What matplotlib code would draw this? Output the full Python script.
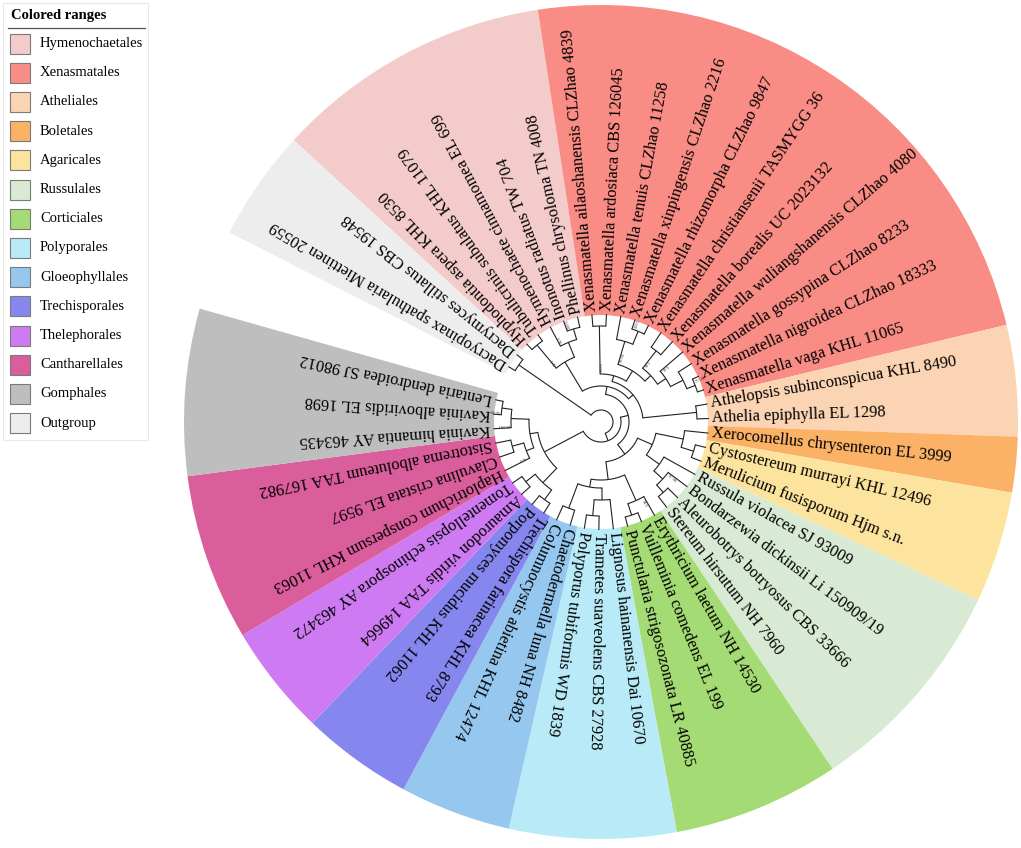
import numpy as np
import matplotlib
matplotlib.use("Agg")
import matplotlib.pyplot as plt
from matplotlib.patches import Wedge, Rectangle

# -- Leaves, clockwise from the outgroup -------------------------------------
LEAVES = [
    "Dacryopinax spathularia Miettinen 20559",
    "Dacrymyces stillatus CBS 19548",
    "Hyphodontia aspera KHL 8530",
    "Tubulicrinis subulatus KHL 11079",
    "Hymenochaete cinnamomea EL 699",
    "Inonotus radiatus TW 704",
    "Phellinus chrysoloma TN 4008",
    "Xenasmatella ailaoshanensis CLZhao 4839",
    "Xenasmatella ardosiaca CBS 126045",
    "Xenasmatella tenuis CLZhao 11258",
    "Xenasmatella xinpingensis CLZhao 2216",
    "Xenasmatella rhizomorpha CLZhao 9847",
    "Xenasmatella christiansenii TASMYGG 36",
    "Xenasmatella borealis UC 2023132",
    "Xenasmatella wuliangshanensis CLZhao 4080",
    "Xenasmatella gossypina CLZhao 8233",
    "Xenasmatella nigroidea CLZhao 18333",
    "Xenasmatella vaga KHL 11065",
    "Athelopsis subinconspicua KHL 8490",
    "Athelia epiphylla EL 1298",
    "Xerocomellus chrysenteron EL 3999",
    "Cystostereum murrayi KHL 12496",
    "Merulicium fusisporum Hjm s.n.",
    "Russula violacea SJ 93009",
    "Bondarzewia dickinsii Li 150909/19",
    "Aleurobotrys botryosus CBS 33666",
    "Stereum hirsutum NH 7960",
    "Erythricium laetum NH 14530",
    "Vuilleminia comedens EL 199",
    "Punctularia strigosozonata LR 40885",
    "Lignosus hainanensis Dai 10670",
    "Trametes suaveolens CBS 27928",
    "Polyporus tubiformis WD 1839",
    "Chaetodermella luna NH 8482",
    "Columnocystis abietina KHL 12474",
    "Trechispora farinacea KHL 8793",
    "Porpomyces mucidus KHL 11062",
    "Amaurodon viridis TAA 149664",
    "Tomentellopsis echinospora AY 463472",
    "Haplotrichum conspersum KHL 11063",
    "Clavulina cristata EL 9597",
    "Sistotrema alboluteum TAA 167982",
    "Kavinia himantia AY 463435",
    "Kavinia alboviridis EL 1698",
    "Lentaria dendroidea SJ 98012",
]

# -- Colored ranges (legend order), first/last leaf index --------------------
CLADES = ["Hymenochaetales", "Xenasmatales", "Atheliales", "Boletales",
          "Agaricales", "Russulales", "Corticiales", "Polyporales",
          "Gloeophyllales", "Trechisporales", "Thelephorales",
          "Cantharellales", "Gomphales", "Outgroup"]
CLADE_FIRST = [2, 7, 18, 20, 21, 23, 27, 30, 33, 35, 37, 39, 42, 0]
CLADE_LAST  = [6, 17, 19, 20, 22, 26, 29, 32, 34, 36, 38, 41, 44, 1]
CLADE_COLORS = ["#F4CBCB", "#F98C85", "#FBD4B4", "#FBB166", "#FDE49E",
                "#D9EAD4", "#A4DB74", "#B8EBF7", "#95C7EF", "#8587EF",
                "#CE7BF3", "#DA5D9C", "#BEBEBE", "#EDEDED"]

# -- Tree: (node depth px, support, children); ints are leaf indices ---------
OUTGROUP = (100, "", [0, 1])
HYMENO   = (70, "98/1", [(100, "", [2, 3]), (86, "95/1", [4, (97, "100/1", [5, 6])])])
XENAS    = (48, "100/1", [(96, "", [7, 8]),
                          (60, "98/94", [(84, "", [9, (98, "100/1", [10, 11])]),
                                         (68, "99/1", [(90, "", [12, 13]),
                                                       (78, "97/1", [14, (92, "", [15, (101, "77/.98", [16, 17])])])])])])
ATHEL    = (96, "", [18, 19])
BOL_AGA  = (84, "", [20, (97, "", [21, 22])])
RUSSUL   = (72, "", [23, (84, "73/.96", [24, (94, "", [25, 26])])])
CORTIC   = (86, "94/1", [27, (98, "", [28, 29])])
POLYPO   = (78, "", [30, (94, "", [31, 32])])
GLOEO    = (92, "", [33, 34])
TRECH    = (96, "", [35, 36])
THELE    = (96, "", [37, 38])
CANTH    = (80, "96/1", [39, (92, "", [40, 41])])
GOMPH    = (90, "22/001", [42, (100, "96/98", [43, 44])])

TREE = (12, "", [OUTGROUP,
        (20, "", [(28, "", [(36, "", [HYMENO, (42, "", [XENAS, ATHEL])]),
                            (40, "", [(56, "", [BOL_AGA, RUSSUL]),
                                      (58, "", [CORTIC, (66, "", [POLYPO, GLOEO])])])]),
                  (64, "", [(84, "", [TRECH, THELE]), (72, "", [CANTH, GOMPH])])])])

# -- Layout -------------------------------------------------------------------
W, H = 1021, 848
CX, CY = 601, H - 422
ANGLE_START, STEP = 149.1, 7.75
R_TIP, R_LABEL = 108, 111
R_IN, R_OUT = 107, 417

angles = [ANGLE_START - i * STEP for i in range(len(LEAVES))]

fig = plt.figure(figsize=(W / 100, H / 100), dpi=100)
ax = fig.add_axes([0, 0, 1, 1])
ax.set_xlim(0, W)
ax.set_ylim(0, H)
ax.set_aspect("equal")
ax.axis("off")

SERIF = ["Liberation Serif", "DejaVu Serif"]

# colored ranges
for name, first, last, col in zip(CLADES, CLADE_FIRST, CLADE_LAST, CLADE_COLORS):
    a_hi = angles[first] + STEP / 2
    a_lo = angles[last] - STEP / 2
    ax.add_patch(Wedge((CX, CY), R_OUT, a_lo, a_hi, width=R_OUT - R_IN,
                       facecolor=col, edgecolor="none", zorder=1))


def polar(r, a):
    t = np.radians(a)
    return CX + r * np.cos(t), CY + r * np.sin(t)


LW, LC = 0.8, "#222222"


def draw(node):
    if isinstance(node, int):
        return angles[node], R_TIP
    r, sup, kids = node
    res = [draw(k) for k in kids]
    angs = [a for a, _ in res]
    for a, rc in res:
        x0, y0 = polar(r, a)
        x1, y1 = polar(rc, a)
        ax.plot([x0, x1], [y0, y1], color=LC, lw=LW, zorder=3,
                solid_capstyle="butt")
    t = np.linspace(min(angs), max(angs), 80)
    xs, ys = polar(r, t)
    ax.plot(xs, ys, color=LC, lw=LW, zorder=3)
    if sup:
        a_sup = max(angs) - 2.0
        xs_, ys_ = polar(r + 7, a_sup)
        ax.text(xs_, ys_, sup, fontsize=3.2, color="#333333",
                rotation=a_sup % 360, ha="center", va="center",
                rotation_mode="anchor", family=SERIF, zorder=4)
    return (min(angs) + max(angs)) / 2, r


draw(TREE)

# leaf labels
for name, a in zip(LEAVES, angles):
    x, y = polar(R_LABEL, a)
    ax.text(x, y, name, fontsize=11.8, family=SERIF, rotation=a % 360,
            rotation_mode="anchor", ha="left", va="center", zorder=5)

# legend
ax.add_patch(Rectangle((3, H - 440), 145, 437, facecolor="white",
                       edgecolor="#e8e8e8", lw=0.8, zorder=6))
ax.text(11, H - 16, "Colored ranges", fontsize=10.5, fontweight="bold",
        family=SERIF, ha="left", va="center", zorder=7)
ax.plot([8, 145], [H - 28, H - 28], color="#555555", lw=0.9, zorder=7)
for i, (name, col) in enumerate(zip(CLADES, CLADE_COLORS)):
    yc = H - (43.5 + i * 29.2)
    ax.add_patch(Rectangle((10, yc - 10), 20, 20, facecolor=col,
                           edgecolor="#7a7a7a", lw=0.8, zorder=7))
    ax.text(40, yc, name, fontsize=10.5, family=SERIF, ha="left",
            va="center", zorder=7)

fig.savefig("out.png", dpi=100)
